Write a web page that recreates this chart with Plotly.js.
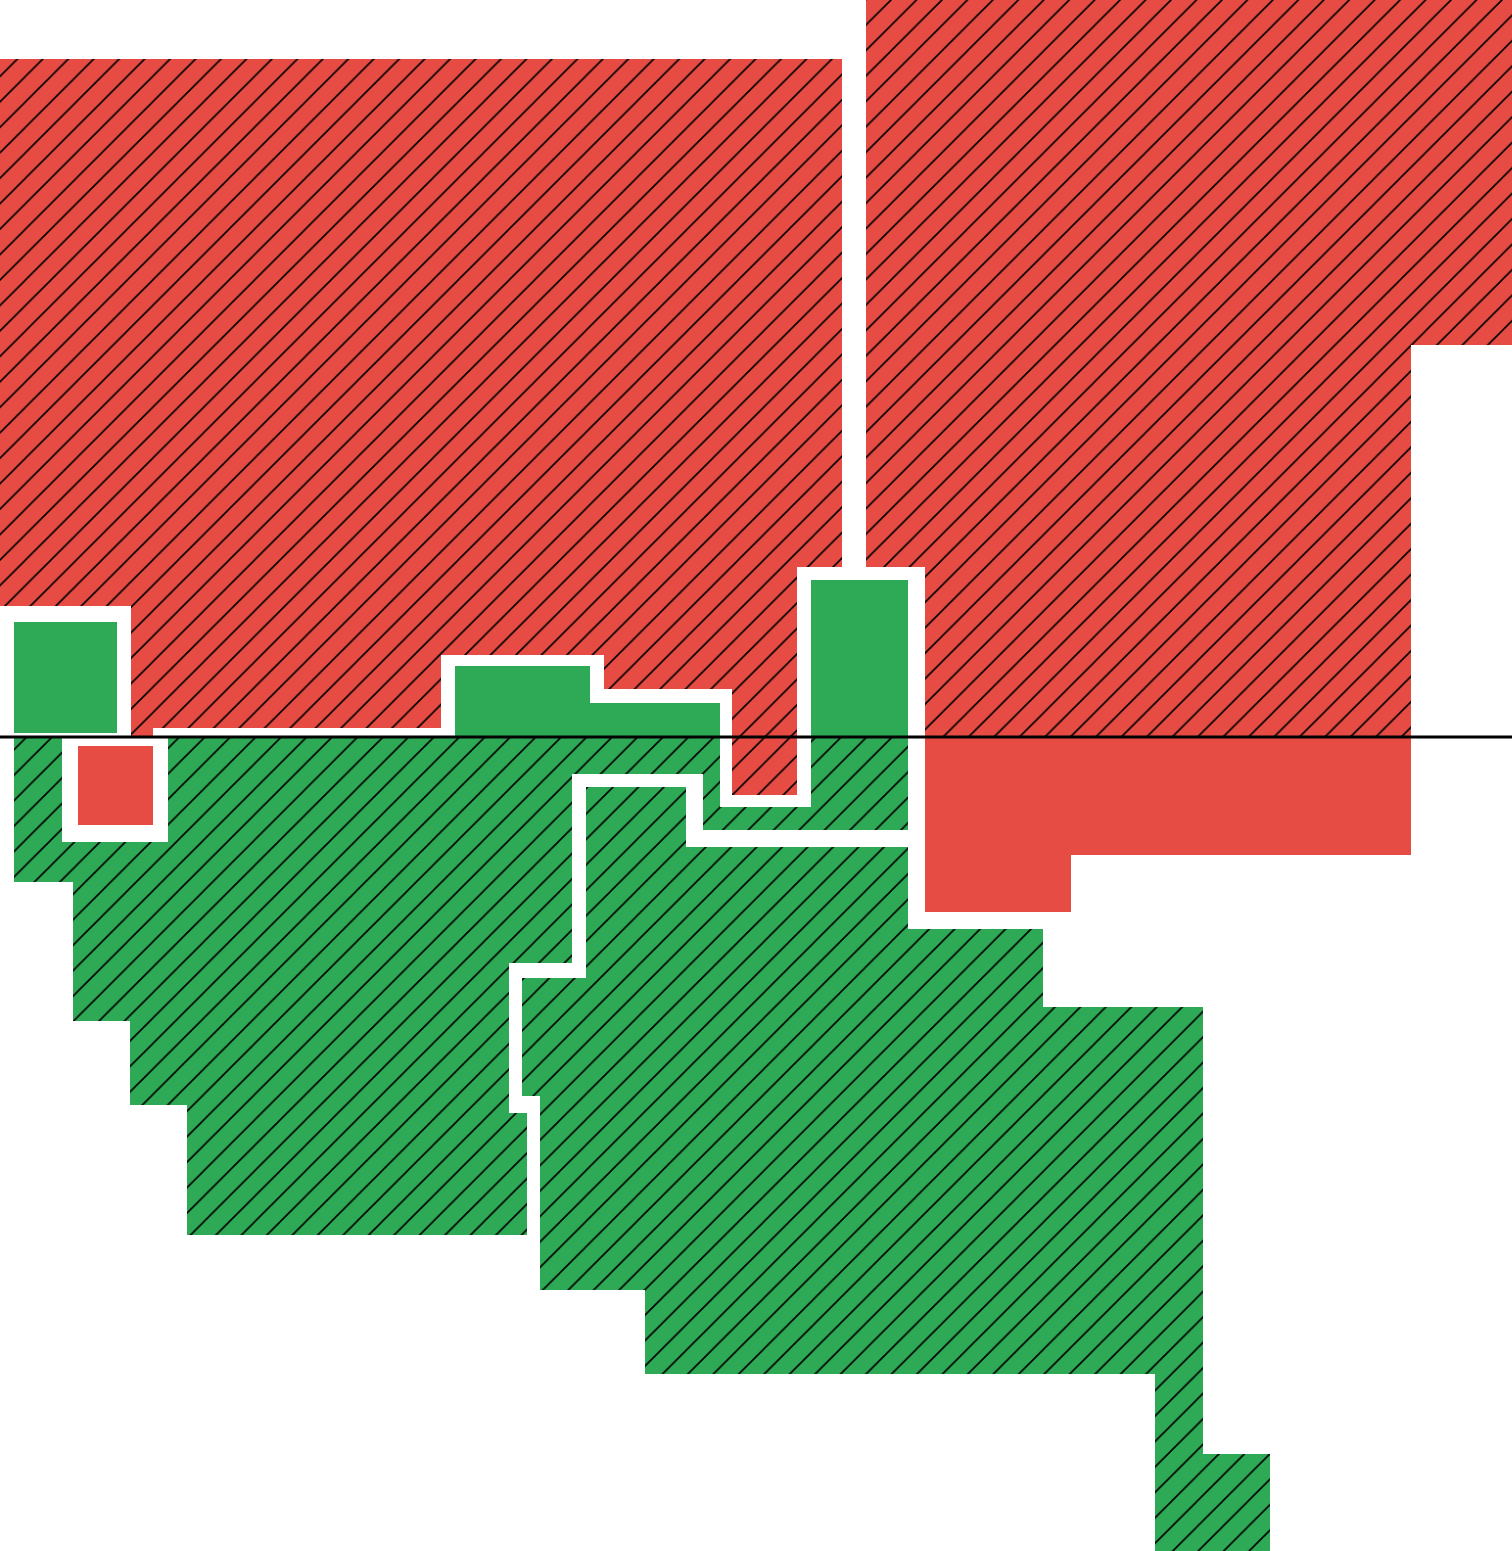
<!DOCTYPE html>
<html>
<head>
<meta charset="utf-8">
<script src="https://cdn.plot.ly/plotly-3.0.1.min.js"></script>
<style>html,body{margin:0;padding:0;background:#fff;}#chart{width:1512px;height:1551px;}</style>
</head>
<body>
<div id="chart"></div>
<script>
// Region outlines (step boundaries), in data units
var redHatchLeftX  = [0, 84.2, 84.2, 79.7, 79.7, 73.2, 73.2, 60.4, 60.4, 44.1, 44.1, 15.3, 15.3, 13.1, 13.1, 0];
var redHatchLeftY  = [67.8, 67.8, 17.0, 17.0, -5.8, -5.8, 4.8, 4.8, 8.2, 8.2, 0.9, 0.9, 0, 0, 13.1, 13.1];

var redHatchRightX = [86.6, 86.6, 92.5, 92.5, 141.1, 141.1, 152, 152];
var redHatchRightY = [74.7, 17.0, 17.0, 0, 0, 39.2, 39.2, 74.7];

var greenSolid1X = [1.4, 11.7, 11.7, 1.4];
var greenSolid1Y = [11.5, 11.5, 0.4, 0.4];
var greenSolid2X = [45.5, 59.0, 59.0, 72.0, 72.0, 45.5];
var greenSolid2Y = [7.1, 7.1, 3.4, 3.4, 0, 0];
var greenSolid3X = [81.1, 90.8, 90.8, 81.1];
var greenSolid3Y = [15.7, 15.7, 0, 0];

var redSolid1X = [7.8, 15.3, 15.3, 7.8];
var redSolid1Y = [-0.9, -0.9, -8.8, -8.8];
var redSolid2X = [92.5, 141.1, 141.1, 107.1, 107.1, 92.5];
var redSolid2Y = [0, 0, -11.8, -11.8, -17.5, -17.5];

var greenHatchAX = [1.4, 1.4, 7.3, 7.3, 13.0, 13.0, 18.7, 18.7, 52.7, 52.7, 50.9, 50.9, 57.2, 57.2, 70.3, 70.3, 90.8, 90.8, 81.1, 81.1, 72.0, 72.0, 16.8, 16.8, 6.2, 6.2];
var greenHatchAY = [0, -14.5, -14.5, -28.4, -28.4, -36.8, -36.8, -49.8, -49.8, -37.6, -37.6, -22.6, -22.6, -3.7, -3.7, -9.3, -9.3, 0, 0, -7.0, -7.0, 0, 0, -10.5, -10.5, 0];

var greenHatchBX = [58.6, 68.6, 68.6, 90.8, 90.8, 104.3, 104.3, 120.3, 120.3, 127.0, 127.0, 115.5, 115.5, 64.5, 64.5, 54.0, 54.0, 52.2, 52.2, 58.6];
var greenHatchBY = [-5.0, -5.0, -11.0, -11.0, -19.2, -19.2, -27.0, -27.0, -71.7, -71.7, -82.3, -82.3, -63.7, -63.7, -55.3, -55.3, -35.9, -35.9, -24.1, -24.1];

var zeroLineX = [0, 151.2];
var zeroLineY = [0, 0];

var RED = '#e74c44';
var GREEN = '#2eaa57';

function hatched(x, y, color) {
  return {
    type: 'scatter', mode: 'none', x: x, y: y, fill: 'toself',
    fillcolor: color,
    fillpattern: {shape: '/', size: 18, solidity: 0.09, fgcolor: '#000000', bgcolor: color, fillmode: 'replace'},
    hoverinfo: 'skip', showlegend: false
  };
}
function solid(x, y, color) {
  return {
    type: 'scatter', mode: 'none', x: x, y: y, fill: 'toself',
    fillcolor: color, hoverinfo: 'skip', showlegend: false
  };
}

var data = [
  hatched(redHatchLeftX, redHatchLeftY, RED),
  hatched(redHatchRightX, redHatchRightY, RED),
  hatched(greenHatchAX, greenHatchAY, GREEN),
  hatched(greenHatchBX, greenHatchBY, GREEN),
  solid(greenSolid1X, greenSolid1Y, GREEN),
  solid(greenSolid2X, greenSolid2Y, GREEN),
  solid(greenSolid3X, greenSolid3Y, GREEN),
  solid(redSolid1X, redSolid1Y, RED),
  solid(redSolid2X, redSolid2Y, RED),
  {type: 'scatter', mode: 'lines', x: zeroLineX, y: zeroLineY,
   line: {color: '#000000', width: 3}, hoverinfo: 'skip', showlegend: false}
];

var layout = {
  width: 1512, height: 1551,
  margin: {l: 0, r: 0, t: 0, b: 0, pad: 0},
  paper_bgcolor: '#ffffff', plot_bgcolor: '#ffffff',
  showlegend: false,
  hovermode: false,
  xaxis: {range: [0, 151.2], visible: false, fixedrange: true},
  yaxis: {range: [-81.4, 73.7], visible: false, fixedrange: true}
};

Plotly.newPlot('chart', data, layout, {staticPlot: true, displayModeBar: false});
</script>
</body>
</html>
